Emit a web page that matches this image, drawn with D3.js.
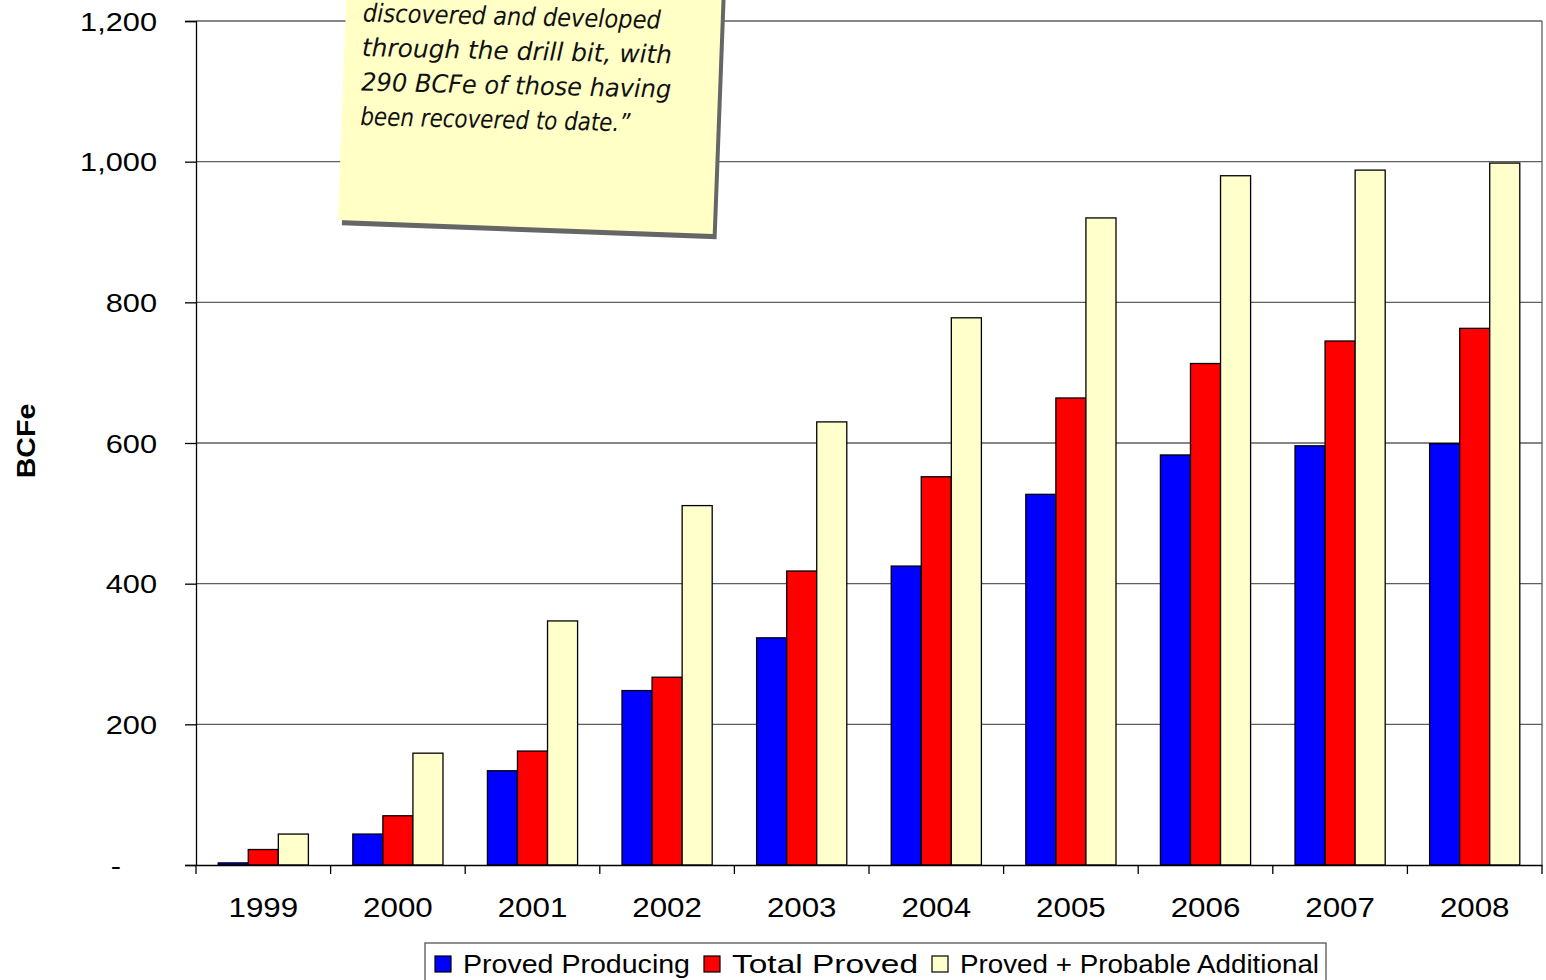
<!DOCTYPE html>
<html><head><meta charset="utf-8">
<script src="https://cdn.jsdelivr.net/npm/d3@7"></script>
<style>body{margin:0;background:#fff;} svg{display:block;}</style>
</head><body>
<svg id="c" width="1546" height="980"></svg>
<script>
// ---- data ----
const years = ["1999","2000","2001","2002","2003","2004","2005","2006","2007","2008"];
const seriesNames = ["Proved Producing","Total Proved","Proved + Probable Additional"];
const provedProducing = [3, 44, 134, 248, 323, 425, 527, 583, 596, 599];
const totalProved = [22, 70, 162, 267, 418, 552, 664, 713, 745, 763];
const provedProbable = [44, 159, 347, 511, 630, 778, 920, 980, 988, 998];
const seriesColors = ["#0000ff", "#ff0000", "#ffffcc"];
const yTicks = [0, 200, 400, 600, 800, 1000, 1200];
const yLabel = "BCFe";
const noteLines = ["discovered and developed", "through the drill bit, with", "290 BCFe of those having", "been recovered to date.\u201D"];

const seriesValues = [provedProducing, totalProved, provedProbable];

// ---- layout ----
const svg = d3.select("#c");
const L = 196, R = 1542, T = 21, B = 865;
const x = d3.scaleBand().domain(years).range([L, R]).paddingInner(0).paddingOuter(0);
const bw = x.bandwidth();
const x1 = d3.scaleBand().domain(seriesNames).range([bw * 0.165, bw * 0.835]).padding(0);
const y = d3.scaleLinear().domain([0, 1200]).range([B, T]);
const font = "'Liberation Sans', Arial, sans-serif";
const sx = 1.16;

// gridlines
svg.append("g").selectAll("line").data(yTicks.filter(d => d > 0)).join("line")
  .attr("x1", L).attr("x2", R).attr("y1", d => y(d)).attr("y2", d => y(d))
  .attr("stroke", "#5e5e5e").attr("stroke-width", 1.3);
// right border
svg.append("line").attr("x1", R).attr("x2", R).attr("y1", T).attr("y2", B)
  .attr("stroke", "#5e5e5e").attr("stroke-width", 1.3);

// bars
const rows = years.map((yr, i) => ({ yr, vals: seriesNames.map((s, j) => ({ s, j, v: seriesValues[j][i] })) }));
svg.append("g").selectAll("g").data(rows).join("g")
  .attr("transform", d => `translate(${x(d.yr)},0)`)
  .selectAll("rect").data(d => d.vals).join("rect")
  .attr("x", d => x1(d.s)).attr("width", x1.bandwidth())
  .attr("y", d => y(d.v)).attr("height", d => y(0) - y(d.v))
  .attr("fill", d => seriesColors[d.j]).attr("stroke", "#000").attr("stroke-width", 1.3);

// y axis
const yAxis = svg.append("g").attr("transform", `translate(${L},0)`)
  .call(d3.axisLeft(y).tickValues(yTicks).tickSize(11).tickPadding(0)
    .tickFormat(d => d === 0 ? "-" : d3.format(",")(d)));
yAxis.select(".domain").attr("stroke", "#000").attr("stroke-width", 1.3);
yAxis.selectAll(".tick line").attr("stroke", "#000").attr("stroke-width", 1.3);
yAxis.selectAll(".tick text")
  .attr("font-family", font).attr("font-size", 26.5).attr("fill", "#000")
  .attr("text-anchor", "end")
  .attr("x", d => (d === 0 ? -75 : -39) / sx)
  .attr("dy", "0.34em")
  .attr("transform", `scale(${sx},1)`);

// x axis
const xAxis = svg.append("g").attr("transform", `translate(0,${B})`)
  .call(d3.axisBottom(x).tickSize(0).tickPadding(0));
xAxis.select(".domain").attr("stroke", "#000").attr("stroke-width", 1.3);
xAxis.selectAll(".tick text")
  .attr("font-family", font).attr("font-size", 27).attr("fill", "#000")
  .attr("y", 52).attr("dy", 0)
  .attr("transform", `scale(${sx},1)`);
// category separator ticks
svg.append("g").selectAll("line").data(years.concat(["end"])).join("line")
  .attr("x1", d => d === "end" ? R : x(d)).attr("x2", d => d === "end" ? R : x(d))
  .attr("y1", B).attr("y2", B + 9).attr("stroke", "#000").attr("stroke-width", 1.3);

// y label
svg.append("text").text(yLabel)
  .attr("transform", "translate(35,441) rotate(-90) scale(1.1,1)")
  .attr("text-anchor", "middle").attr("font-family", font)
  .attr("font-weight", "bold").attr("font-size", 26).attr("fill", "#000");

// legend
const lg = svg.append("g");
const legBox = lg.append("rect").attr("fill", "#fff").attr("stroke", "#555").attr("stroke-width", 1.3);
const legTextW = [227, 186, 359];
let cx = 435;
const legY = 964;
seriesNames.forEach((s, j) => {
  lg.append("rect").attr("x", cx).attr("y", legY - 8).attr("width", 16).attr("height", 16)
    .attr("fill", seriesColors[j]).attr("stroke", "#000").attr("stroke-width", 1.2);
  lg.append("text").text(s).attr("font-family", font).attr("font-size", 25.5)
    .attr("fill", "#000").attr("x", cx + 28).attr("y", legY + 8.5)
    .attr("textLength", legTextW[j]).attr("lengthAdjust", "spacingAndGlyphs");
  cx = cx + 28 + legTextW[j] + 14;
});
legBox.attr("x", 425).attr("y", 943).attr("width", cx - 14 + 7 - 425).attr("height", 44);

// sticky note
const theta = 2.15;
const note = svg.append("g").attr("transform", `translate(338,220) rotate(${theta})`);
note.append("rect").attr("x", 4).attr("y", -300).attr("width", 375).attr("height", 305)
  .attr("fill", "#666");
note.append("rect").attr("x", 0).attr("y", -300).attr("width", 375).attr("height", 300)
  .attr("fill", "#ffffc6");
const noteWidths = [298, 310, 310, 270];
note.append("g").attr("transform", "rotate(-0.8)")
  .selectAll("text.n").data(noteLines).join("text").attr("class", "n")
  .text(d => d)
  .attr("x", 20).attr("y", (d, i) => -199 + i * 34.5)
  .attr("font-family", "'DejaVu Sans', sans-serif").attr("font-style", "italic")
  .attr("font-size", 25).attr("fill", "#111")
  .attr("textLength", (d, i) => noteWidths[i]).attr("lengthAdjust", "spacingAndGlyphs");
</script>
</body></html>
